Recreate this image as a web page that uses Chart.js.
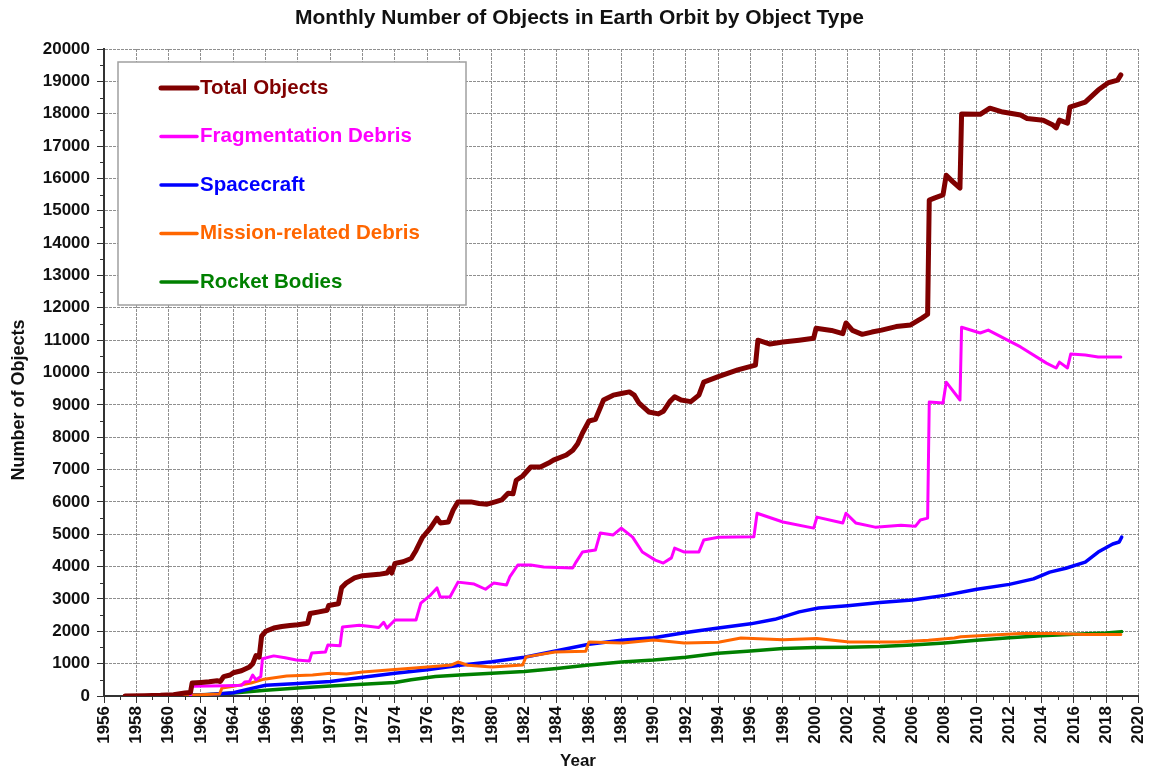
<!DOCTYPE html>
<html>
<head>
<meta charset="utf-8">
<script src="https://cdn.jsdelivr.net/npm/chart.js@4.4.1/dist/chart.umd.min.js"></script>
<style>
  html, body { margin: 0; padding: 0; background: #fff; }
  #wrap { width: 1162px; height: 771px; }
</style>
</head>
<body>
<div id="wrap"><canvas id="myChart" width="1162" height="771"></canvas></div>
<script>
// values, [year, count]
var totalObjects = [
  [1957.3, 2], [1958.5, 10], [1959.5, 20], [1960.3, 40], [1961.0, 90], [1961.35, 110], [1961.45, 400],
  [1962.0, 420], [1962.5, 440], [1963.0, 470], [1963.2, 450], [1963.4, 600], [1963.8, 650], [1964.0, 720],
  [1964.5, 780], [1965.0, 900], [1965.2, 1000], [1965.4, 1250], [1965.6, 1200], [1965.75, 1850], [1966.0, 2000],
  [1966.5, 2100], [1967.0, 2150], [1967.5, 2180], [1968.0, 2200], [1968.6, 2250], [1968.75, 2550], [1969.3, 2600],
  [1969.8, 2650], [1969.9, 2800], [1970.5, 2850], [1970.7, 3350], [1971.0, 3500], [1971.5, 3650], [1972.0, 3720],
  [1972.5, 3740], [1973.0, 3760], [1973.5, 3800], [1973.7, 3950], [1973.8, 3800], [1974.0, 4100], [1974.5, 4150],
  [1975.0, 4250], [1975.3, 4500], [1975.7, 4900], [1976.2, 5200], [1976.6, 5500], [1976.8, 5350], [1977.3, 5380],
  [1977.6, 5750], [1977.9, 6000], [1978.7, 6000], [1979.2, 5950], [1979.7, 5930], [1980.2, 6000], [1980.6, 6060],
  [1981.0, 6270], [1981.3, 6250], [1981.5, 6670], [1981.9, 6800], [1982.4, 7080], [1983.0, 7080], [1983.5, 7200],
  [1983.8, 7290], [1984.6, 7450], [1985.0, 7600], [1985.3, 7800], [1985.6, 8130], [1986.0, 8500], [1986.4, 8550],
  [1986.9, 9150], [1987.5, 9300], [1988.0, 9350], [1988.5, 9400], [1988.8, 9300], [1989.1, 9050], [1989.7, 8780],
  [1990.3, 8720], [1990.6, 8800], [1991.0, 9100], [1991.3, 9250], [1991.7, 9150], [1992.3, 9100], [1992.8, 9300],
  [1993.1, 9700], [1994.0, 9870], [1995.2, 10080], [1996.3, 10230], [1996.45, 11000], [1997.2, 10880], [1998.0, 10940],
  [1999.0, 11000], [1999.9, 11060], [2000.05, 11370], [2001.0, 11300], [2001.7, 11200], [2001.9, 11530], [2002.3, 11300],
  [2002.9, 11180], [2003.5, 11250], [2004.1, 11310], [2005.0, 11420], [2005.9, 11470], [2006.6, 11680], [2006.95, 11800],
  [2007.05, 15330], [2007.4, 15400], [2007.9, 15490], [2008.1, 16100], [2008.5, 15900], [2008.95, 15700], [2009.05, 17990],
  [2010.2, 17980], [2010.8, 18170], [2011.6, 18050], [2012.7, 17960], [2013.1, 17850], [2014.1, 17800], [2014.7, 17650],
  [2014.9, 17560], [2015.1, 17800], [2015.6, 17710], [2015.75, 18200], [2016.7, 18360], [2017.5, 18730], [2018.1, 18950],
  [2018.7, 19040], [2018.9, 19200]
];
var fragmentationDebris = [
  [1961.35, 0], [1961.45, 300], [1962.5, 310], [1963.5, 320], [1964.5, 330], [1964.7, 430], [1965.0, 450],
  [1965.2, 650], [1965.4, 500], [1965.7, 600], [1965.8, 1150], [1966.5, 1240], [1967.2, 1180], [1967.9, 1110],
  [1968.7, 1080], [1968.85, 1330], [1969.7, 1360], [1969.85, 1580], [1970.6, 1550], [1970.75, 2130], [1971.8, 2190],
  [1972.5, 2150], [1973.0, 2120], [1973.3, 2280], [1973.5, 2100], [1974.0, 2350], [1975.3, 2350], [1975.6, 2870],
  [1976.2, 3120], [1976.6, 3340], [1976.8, 3060], [1977.4, 3060], [1977.9, 3520], [1978.9, 3460], [1979.6, 3300],
  [1980.1, 3490], [1980.9, 3430], [1981.1, 3680], [1981.6, 4050], [1982.4, 4050], [1983.2, 3990], [1985.0, 3960],
  [1985.2, 4140], [1985.6, 4450], [1986.4, 4510], [1986.7, 5040], [1987.5, 4980], [1988.0, 5190], [1988.7, 4910],
  [1989.3, 4450], [1990.1, 4200], [1990.6, 4110], [1991.1, 4270], [1991.3, 4570], [1991.9, 4450], [1992.8, 4450],
  [1993.1, 4820], [1994.0, 4910], [1996.2, 4920], [1996.4, 5650], [1998.0, 5380], [1999.9, 5190], [2000.1, 5530],
  [2001.7, 5350], [2001.9, 5650], [2002.5, 5350], [2003.7, 5220], [2005.3, 5280], [2006.2, 5250], [2006.5, 5440],
  [2006.95, 5500], [2007.05, 9090], [2007.9, 9060], [2008.1, 9700], [2008.95, 9150], [2009.05, 11400], [2010.2, 11220],
  [2010.7, 11310], [2012.7, 10790], [2014.3, 10290], [2014.9, 10140], [2015.1, 10320], [2015.6, 10140], [2015.8, 10570],
  [2016.7, 10540], [2017.5, 10480], [2018.9, 10480]
];
var spacecraft = [
  [1957.8, 1], [1960, 10], [1962, 30], [1963, 60], [1964, 100], [1965, 220], [1966, 330], [1968, 390], [1970, 450],
  [1972, 580], [1974, 700], [1976, 810], [1978, 950], [1980, 1060], [1982, 1200], [1984, 1400], [1986, 1600],
  [1988, 1720], [1990, 1800], [1992, 1960], [1994, 2100], [1996, 2230], [1997.5, 2370], [1999, 2600], [2000.2, 2720],
  [2002, 2790], [2004, 2890], [2006, 2970], [2008, 3110], [2010, 3300], [2012, 3450], [2013.5, 3620], [2014.5, 3830],
  [2015.5, 3950], [2016.7, 4140], [2017.5, 4450], [2018.4, 4700], [2018.8, 4760], [2018.95, 4910]
];
var missionDebris = [
  [1957.8, 1], [1961, 20], [1962, 40], [1963.15, 60], [1963.3, 250], [1963.9, 290], [1965.1, 400], [1965.9, 520],
  [1967.3, 620], [1968.9, 650], [1970, 700], [1971, 680], [1972, 740], [1974, 820], [1976, 900], [1977.5, 960],
  [1977.9, 1050], [1978.5, 950], [1980, 900], [1981.9, 960], [1982.1, 1210], [1983.9, 1360], [1985.8, 1380],
  [1986.0, 1670], [1988.1, 1640], [1990, 1730], [1991.9, 1640], [1994, 1660], [1995.4, 1790], [1998, 1740],
  [2000.1, 1780], [2002.1, 1670], [2005.1, 1670], [2007, 1720], [2008.6, 1790], [2009, 1830], [2012.7, 1930],
  [2014.7, 1930], [2016.7, 1900], [2018.9, 1900]
];
var rocketBodies = [
  [1957.3, 2], [1959, 10], [1961, 25], [1962.5, 50], [1964, 90], [1966, 180], [1968, 250], [1970, 310], [1972, 360],
  [1974, 420], [1975, 500], [1976.5, 600], [1978, 650], [1980, 700], [1982, 760], [1984, 850], [1986, 960],
  [1988, 1050], [1990, 1110], [1992, 1200], [1994, 1320], [1996, 1390], [1998, 1470], [2000, 1500], [2002, 1510],
  [2004, 1530], [2006, 1580], [2008, 1640], [2010, 1720], [2012, 1800], [2014, 1860], [2016, 1910], [2018, 1950],
  [2018.95, 1990]
];
var seriesNames = ['Total Objects', 'Fragmentation Debris', 'Spacecraft', 'Mission-related Debris', 'Rocket Bodies'];
var seriesColors = ['#800000', '#ff00ff', '#0000ff', '#ff6600', '#008000'];
var seriesWidths = [5, 3, 3.5, 3, 3.5];
var seriesData = [totalObjects, fragmentationDebris, spacecraft, missionDebris, rocketBodies];
var drawOrder = [1, 2, 4, 3, 5];

function toPoints(arr) {
  return arr.map(function (p) { return { x: p[0], y: p[1] }; });
}

var FONT = "'Liberation Sans', Arial, sans-serif";
Chart.defaults.font.family = FONT;
Chart.defaults.font.weight = 'bold';
Chart.defaults.color = '#111';

var gridGray = '#8f8f8f';

// legend box, axis titles and minor ticks drawn by hand like the original
var extras = {
  id: 'extras',
  afterDraw: function (chart) {
    var c = chart.ctx, a = chart.chartArea;
    var xs = chart.scales.x, ys = chart.scales.y;
    c.save();

    // minor ticks
    c.strokeStyle = '#333';
    c.lineWidth = 1;
    c.beginPath();
    for (var yr = 1957; yr < 2020; yr += 2) {
      var px = Math.round(xs.getPixelForValue(yr)) + 0.5;
      c.moveTo(px, a.bottom);
      c.lineTo(px, a.bottom + 4);
    }
    for (var v = 500; v < 20000; v += 1000) {
      var py = Math.round(ys.getPixelForValue(v)) + 0.5;
      c.moveTo(a.left - 4, py);
      c.lineTo(a.left, py);
    }
    c.stroke();

    // axis titles
    c.fillStyle = '#111';
    c.textAlign = 'center';
    c.textBaseline = 'middle';
    c.font = 'bold 17px ' + FONT;
    c.fillText('Year', a.left + 474, 761);
    c.save();
    c.translate(19, 400);
    c.rotate(-Math.PI / 2);
    c.font = 'bold 18px ' + FONT;
    c.fillText('Number of Objects', 0, 0);
    c.restore();

    // legend
    var bx = a.left + 14, by = a.top + 13, bw = 348, bh = 243;
    c.fillStyle = '#fff';
    c.fillRect(bx, by, bw, bh);
    c.strokeStyle = '#a0a0a0';
    c.lineWidth = 1.5;
    c.strokeRect(bx, by, bw, bh);
    c.font = 'bold 20.5px ' + FONT;
    c.textAlign = 'left';
    c.textBaseline = 'middle';
    for (var i = 0; i < seriesNames.length; i++) {
      var y = by + 26 + i * 48.5;
      c.strokeStyle = seriesColors[i];
      c.lineWidth = i === 0 ? 5 : 3.5;
      c.lineCap = 'round';
      c.beginPath();
      c.moveTo(bx + 43, y);
      c.lineTo(bx + 79, y);
      c.stroke();
      c.fillStyle = seriesColors[i];
      c.fillText(seriesNames[i], bx + 82, y);
    }
    c.restore();
  }
};

const ctx = document.getElementById('myChart');
new Chart(ctx, {
  type: 'line',
  data: {
    datasets: seriesData.map(function (d, i) {
      return {
        label: seriesNames[i],
        data: toPoints(d),
        borderColor: seriesColors[i],
        backgroundColor: seriesColors[i],
        borderWidth: seriesWidths[i],
        pointRadius: 0,
        tension: 0,
        borderJoinStyle: 'round',
        borderCapStyle: 'round',
        order: drawOrder[i]
      };
    })
  },
  options: {
    responsive: false,
    animation: false,
    events: [],
    layout: { padding: { left: 6, right: 9, top: 0, bottom: 0 } },
    plugins: {
      legend: { display: false },
      tooltip: { enabled: false },
      title: {
        display: true,
        text: 'Monthly Number of Objects in Earth Orbit by Object Type',
        color: '#111',
        font: { size: 21, weight: 'bold' },
        padding: { top: 6, bottom: 17.8 }
      }
    },
    scales: {
      x: {
        type: 'linear',
        min: 1956,
        max: 2020,
        afterFit: function (s) { s.height = 75; },
        ticks: {
          stepSize: 1,
          autoSkip: false,
          minRotation: 90,
          maxRotation: 90,
          padding: 3,
          color: '#111',
          font: { size: 17, weight: 'bold' },
          callback: function (v) { return v % 2 === 0 ? String(v) : ''; }
        },
        grid: {
          color: function (c) { return c.tick && c.tick.value % 2 === 0 ? gridGray : 'rgba(0,0,0,0)'; },
          tickColor: function (c) { return c.tick && c.tick.value % 2 === 0 ? '#333' : 'rgba(0,0,0,0)'; },
          tickLength: 7,
          lineWidth: 1
        },
        border: { color: '#333', width: 2, dash: [3, 1] }
      },
      y: {
        min: 0,
        max: 20000,
        afterFit: function (s) { s.width = 98; },
        ticks: {
          stepSize: 500,
          autoSkip: false,
          padding: 7,
          color: '#111',
          font: { size: 17, weight: 'bold' },
          callback: function (v) { return v % 1000 === 0 ? String(v) : ''; }
        },
        grid: {
          color: function (c) { return c.tick && c.tick.value % 1000 === 0 ? gridGray : 'rgba(0,0,0,0)'; },
          tickColor: function (c) { return c.tick && c.tick.value % 1000 === 0 ? '#333' : 'rgba(0,0,0,0)'; },
          tickLength: 7,
          lineWidth: 1
        },
        border: { color: '#333', width: 2, dash: [3, 1] }
      }
    }
  },
  plugins: [extras]
});
</script>
</body>
</html>
